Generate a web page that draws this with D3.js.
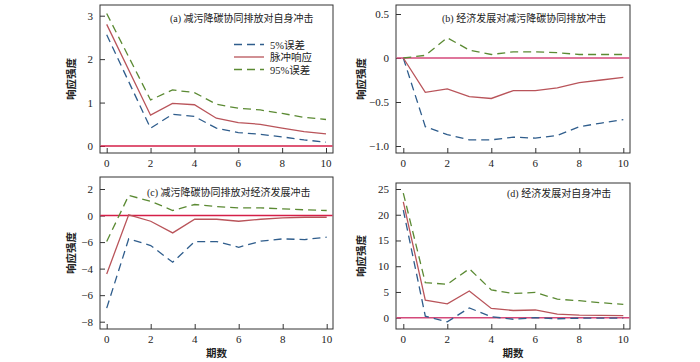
<!DOCTYPE html>
<html>
<head>
<meta charset="utf-8">
<script src="https://cdn.jsdelivr.net/npm/d3@7"></script>
<style>
  body { margin: 0; background: #fff; }
  svg text { font-family: "Liberation Serif", "Times New Roman", "Noto Sans CJK SC", serif; fill: #222; }
</style>
</head>
<body>
<svg id="grafico" width="700" height="362"></svg>
<script>
// periodos
var periodos = [0, 1, 2, 3, 4, 5, 6, 7, 8, 9, 10];
var periodosA = [0, 2, 3, 4, 5, 6, 7, 8, 9, 10];

// (a) 减污降碳协同排放对自身冲击
var a5 = [2.56, 0.41, 0.73, 0.68, 0.41, 0.31, 0.27, 0.21, 0.14, 0.09];
var aImpulso = [2.80, 0.71, 0.98, 0.95, 0.64, 0.54, 0.50, 0.41, 0.33, 0.28];
var a95 = [3.05, 1.06, 1.29, 1.23, 0.96, 0.87, 0.83, 0.75, 0.66, 0.61];

// (b) 经济发展对减污降碳协同排放冲击
var b5 = [0, -0.78, -0.87, -0.93, -0.93, -0.90, -0.91, -0.88, -0.78, -0.74, -0.70];
var bImpulso = [0, -0.39, -0.35, -0.44, -0.46, -0.37, -0.37, -0.34, -0.28, -0.25, -0.22];
var b95 = [0, 0.03, 0.23, 0.09, 0.04, 0.07, 0.07, 0.06, 0.04, 0.04, 0.04];

// (c) 减污降碳协同排放对经济发展冲击
var c5 = [-6.98, -1.76, -2.26, -3.52, -1.96, -1.96, -2.39, -1.93, -1.76, -1.81, -1.63];
var cImpulso = [-4.40, 0.05, -0.43, -1.31, -0.28, -0.28, -0.43, -0.28, -0.18, -0.13, -0.13];
var c95 = [-1.96, 1.51, 1.08, 0.38, 0.83, 0.68, 0.58, 0.58, 0.50, 0.43, 0.38];

// (d) 经济发展对自身冲击
var d5 = [20.9, 0.3, -0.8, 1.9, 0.2, -0.3, 0, -0.2, -0.1, -0.1, -0.1];
var dImpulso = [22.5, 3.4, 2.7, 5.2, 1.8, 1.4, 1.5, 0.7, 0.5, 0.45, 0.4];
var d95 = [24.2, 6.8, 6.5, 9.5, 5.4, 4.7, 4.9, 3.6, 3.3, 2.9, 2.6];

// ticks
var ticksX = [0, 2, 4, 6, 8, 10];
var ticksA = [0, 1, 2, 3];
var rotulosA = ["0", "1", "2", "3"];
var ticksB = [-1, -0.5, 0, 0.5];
var rotulosB = ["−1.0", "−0.5", "0", "0.5"];
var ticksC = [-8, -6, -4, -2, 0, 2];
var rotulosC = ["−8", "−6", "−4", "−6", "0", "2"];
var ticksD = [0, 5, 10, 15, 20, 25];
var rotulosD = ["0", "5", "10", "15", "20", "25"];

var nomesSeries = ["5%误差", "脉冲响应", "95%误差"];

var corAzul = "#2f5d8c";
var corVermelho = "#b9545a";
var corVerde = "#5b8a33";

var svg = d3.select("#grafico");

function painel(cfg) {
    var g = svg.append("g");
    var x = d3.scaleLinear().domain([0, 10]).range([cfg.x0, cfg.x10]);
    var y = d3.scaleLinear().domain(cfg.dominio).range(cfg.faixa);

    // moldura
    g.append("rect")
        .attr("x", cfg.left).attr("y", cfg.top)
        .attr("width", cfg.right - cfg.left).attr("height", cfg.bottom - cfg.top)
        .attr("fill", "none").attr("stroke", "#333").attr("stroke-width", 1);

    // eixo y (ticks para dentro)
    var eixoY = d3.axisRight(y).tickValues(cfg.ticks).tickSize(5).tickFormat("");
    var gy = g.append("g").attr("transform", "translate(" + cfg.left + ",0)").call(eixoY);
    gy.select(".domain").remove();
    gy.selectAll("line").attr("stroke", "#333");
    g.selectAll(".rotY").data(cfg.ticks).enter().append("text")
        .attr("x", cfg.left - 7).attr("y", function(d) { return y(d) + 4; })
        .attr("text-anchor", "end").style("font-size", "11px")
        .text(function(d, i) { return cfg.rotulos[i]; });

    // eixo x
    var eixoX = d3.axisTop(x).tickValues(ticksX).tickSize(5).tickFormat("");
    var gx = g.append("g").attr("transform", "translate(0," + cfg.bottom + ")").call(eixoX);
    gx.select(".domain").remove();
    gx.selectAll("line").attr("stroke", "#333");
    g.selectAll(".rotX").data(ticksX).enter().append("text")
        .attr("x", function(d) { return x(d); }).attr("y", cfg.bottom + 14)
        .attr("text-anchor", "middle").style("font-size", "11px")
        .text(function(d) { return d; });

    // linha zero
    g.append("line")
        .attr("x1", cfg.left + 0.5).attr("x2", cfg.right - 0.5)
        .attr("y1", y(0)).attr("y2", y(0))
        .attr("stroke", cfg.corZero).attr("stroke-width", 1.6);

    var linha = d3.line()
        .x(function(d) { return x(d[0]); })
        .y(function(d) { return y(d[1]); });

    var series = [
        { v: cfg.s95, cor: corVerde, dash: "8,5" },
        { v: cfg.s5, cor: corAzul, dash: "8,5" },
        { v: cfg.imp, cor: corVermelho, dash: null }
    ];
    series.forEach(function(s) {
        var pts = cfg.per.map(function(p, i) { return [p, s.v[i]]; });
        g.append("path").datum(pts)
            .attr("d", linha)
            .attr("fill", "none")
            .attr("stroke", s.cor)
            .attr("stroke-width", 1.3)
            .attr("stroke-dasharray", s.dash);
    });

    // titulo
    g.append("text").attr("x", cfg.tx).attr("y", cfg.ty)
        .style("font-size", "10px").text(cfg.titulo);

    // rotulo y
    var cy = (cfg.top + cfg.bottom) / 2;
    g.append("text")
        .attr("transform", "translate(" + cfg.ylx + "," + cy + ") rotate(-90)")
        .attr("text-anchor", "middle").style("font-size", "10.5px").style("font-weight", "bold")
        .text("响应强度");

    if (cfg.xlabel) {
        g.append("text").attr("x", (cfg.left + cfg.right) / 2).attr("y", cfg.bottom + 28)
            .attr("text-anchor", "middle").style("font-size", "10.5px").style("font-weight", "bold")
            .text("期数");
    }
    return g;
}

var gA = painel({
    left: 100, right: 333, top: 5, bottom: 153, x0: 106.7, x10: 326,
    dominio: [0, 3], faixa: [146, 15.7], ticks: ticksA, rotulos: rotulosA,
    per: periodosA, s5: a5, imp: aImpulso, s95: a95, corZero: "#d51f48",
    titulo: "(a) 减污降碳协同排放对自身冲击", tx: 170, ty: 22, ylx: 75
});
var gB = painel({
    left: 396, right: 630, top: 5, bottom: 153, x0: 403.3, x10: 623.3,
    dominio: [-1, 0.5], faixa: [146, 14], ticks: ticksB, rotulos: rotulosB,
    per: periodos, s5: b5, imp: bImpulso, s95: b95, corZero: "#d4497a",
    titulo: "(b) 经济发展对减污降碳协同排放冲击", tx: 442, ty: 22, ylx: 365
});
painel({
    left: 100, right: 333, top: 177, bottom: 329, x0: 106.7, x10: 326.7,
    dominio: [-8, 2], faixa: [321.7, 189], ticks: ticksC, rotulos: rotulosC,
    per: periodos, s5: c5, imp: cImpulso, s95: c95, corZero: "#d51f48",
    titulo: "(c) 减污降碳协同排放对经济发展冲击", tx: 147, ty: 196, ylx: 75, xlabel: true
});
painel({
    left: 396, right: 630, top: 183, bottom: 329, x0: 403.3, x10: 623.3,
    dominio: [0, 25], faixa: [317.7, 189], ticks: ticksD, rotulos: rotulosD,
    per: periodos, s5: d5, imp: dImpulso, s95: d95, corZero: "#d4497a",
    titulo: "(d) 经济发展对自身冲击", tx: 507, ty: 197, ylx: 365, xlabel: true
});

// legenda
var legenda = gA.append("g");
var coresLeg = [corAzul, corVermelho, corVerde];
var dashLeg = ["8,5", null, "8,5"];
var yLeg = d3.scalePoint().domain(nomesSeries).range([44.5, 69.5]);
nomesSeries.forEach(function(n, i) {
    legenda.append("line")
        .attr("x1", 234).attr("x2", 264)
        .attr("y1", yLeg(n)).attr("y2", yLeg(n))
        .attr("stroke", coresLeg[i]).attr("stroke-width", 1.3)
        .attr("stroke-dasharray", dashLeg[i]);
    legenda.append("text").attr("x", 270).attr("y", yLeg(n) + 4)
        .style("font-size", "10.5px").text(n);
});
</script>
</body>
</html>
